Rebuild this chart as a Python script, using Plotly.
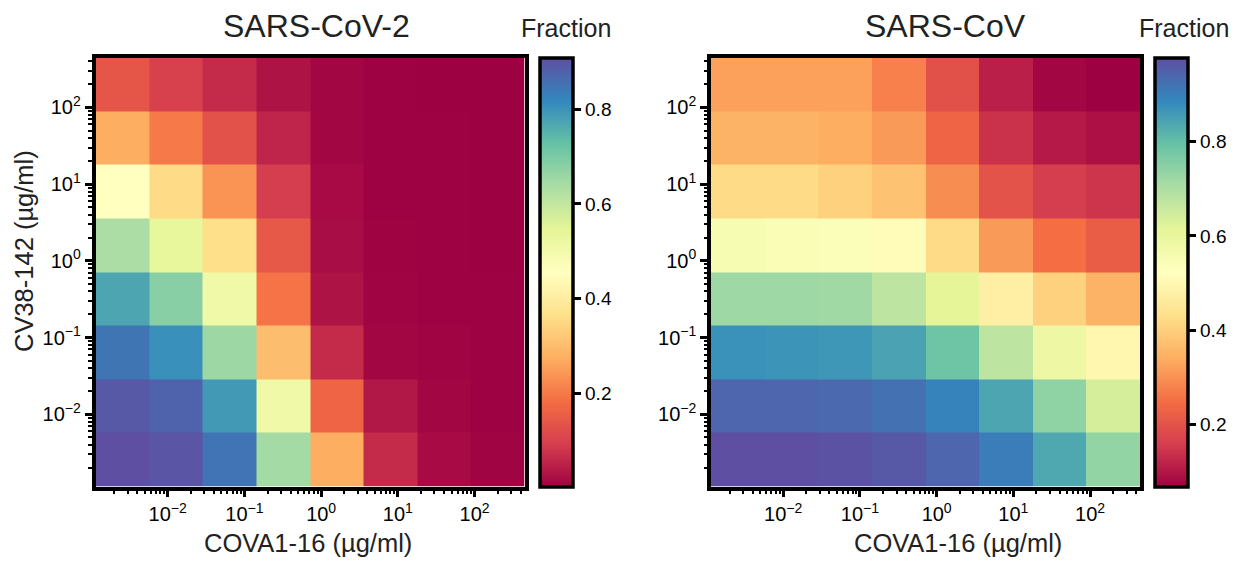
import numpy as np
import plotly.graph_objects as go

# ---- data ----
# concentrations (µg/ml), 5-fold dilution series
cova_conc = [0.00256, 0.0128, 0.064, 0.32, 1.6, 8, 40, 200]          # x (columns, left->right)
cv38_conc = [200, 40, 8, 1.6, 0.32, 0.064, 0.0128, 0.00256]          # y (rows, top->bottom)
dilution = 5

# fraction values, rows follow cv38_conc, columns follow cova_conc
sars2_frac = [
    [0.140, 0.100, 0.067, 0.031, 0.013, 0.005, 0.004, 0.004],
    [0.276, 0.203, 0.131, 0.058, 0.013, 0.006, 0.005, 0.004],
    [0.456, 0.357, 0.239, 0.095, 0.018, 0.006, 0.005, 0.004],
    [0.637, 0.538, 0.366, 0.145, 0.022, 0.007, 0.005, 0.004],
    [0.773, 0.683, 0.511, 0.194, 0.031, 0.009, 0.006, 0.005],
    [0.848, 0.806, 0.656, 0.303, 0.067, 0.013, 0.008, 0.005],
    [0.895, 0.877, 0.792, 0.511, 0.167, 0.036, 0.013, 0.006],
    [0.909, 0.900, 0.850, 0.647, 0.276, 0.067, 0.018, 0.008],
]
sars1_frac = [
    [0.324, 0.324, 0.323, 0.278, 0.196, 0.114, 0.078, 0.069],
    [0.351, 0.350, 0.342, 0.314, 0.233, 0.142, 0.105, 0.092],
    [0.424, 0.423, 0.405, 0.378, 0.296, 0.201, 0.160, 0.146],
    [0.551, 0.546, 0.537, 0.514, 0.424, 0.314, 0.251, 0.219],
    [0.723, 0.723, 0.719, 0.678, 0.614, 0.478, 0.405, 0.351],
    [0.873, 0.869, 0.864, 0.846, 0.787, 0.678, 0.587, 0.496],
    [0.942, 0.942, 0.937, 0.923, 0.896, 0.842, 0.742, 0.642],
    [0.978, 0.978, 0.973, 0.964, 0.942, 0.905, 0.837, 0.737],
]
panel_titles = ["SARS-CoV-2", "SARS-CoV"]
x_label = "COVA1-16 (µg/ml)"
y_label = "CV38-142 (µg/ml)"
cbar_title = "Fraction"
major_tick_vals = [0.01, 0.1, 1, 10, 100]
major_tick_exp = ["−2", "−1", "0", "1", "2"]
cbar_tick_vals = [0.2, 0.4, 0.6, 0.8]

# ---- helpers ----
spectral = ["#9e0142", "#d53e4f", "#f46d43", "#fdae61", "#fee08b", "#ffffbf",
            "#e6f598", "#abdda4", "#66c2a5", "#3288bd", "#5e4fa2"]
colorscale = [[i / 10, c] for i, c in enumerate(spectral)]

def edges(conc):
    c = np.array(sorted(conc), dtype=float)
    s = np.sqrt(dilution)
    return np.concatenate([c / s, [c[-1] * s]])

x_edges = edges(cova_conc)
y_edges = edges(cv38_conc)
rng_x = [np.log10(x_edges[0]), np.log10(x_edges[-1])]
rng_y = [np.log10(y_edges[0]), np.log10(y_edges[-1])]

minor_vals = [k * 10.0 ** n for n in range(-4, 3) for k in range(2, 10)]
major_tick_text = ["10<sup>%s</sup>" % e for e in major_tick_exp]

W, H = 1239, 561
ML, MR, MT, MB = 90, 90, 50, 70
PW, PH = W - ML - MR, H - MT - MB
def px(x): return (x - ML) / PW
def py(y): return 1 - (y - MT) / PH

FONT = "Liberation Sans"

def z_ascending(rows):
    order = np.argsort(cv38_conc)
    return np.array(rows)[order]

fig = go.Figure()

cbar_common = dict(
    thickness=33, thicknessmode="pixels", len=429 / PH, lenmode="fraction",
    y=py(272), yanchor="middle", ypad=0, xpad=0, xanchor="left",
    outlinewidth=3.5, outlinecolor="black",
    ticks="outside", ticklen=7, tickwidth=2.5, tickcolor="black",
    tickmode="array", tickvals=cbar_tick_vals,
    tickfont=dict(family=FONT, size=19, color="black"),
)

fig.add_trace(go.Heatmap(
    x=x_edges, y=y_edges, z=z_ascending(sars2_frac), colorscale=colorscale,
    xaxis="x", yaxis="y", hoverinfo="skip",
    colorbar=dict(x=px(539.5), **cbar_common),
))
fig.add_trace(go.Heatmap(
    x=x_edges, y=y_edges, z=z_ascending(sars1_frac), colorscale=colorscale,
    xaxis="x2", yaxis="y2", hoverinfo="skip",
    colorbar=dict(x=px(1155.2), **cbar_common),
))

axis_common = dict(
    type="log", showgrid=False, zeroline=False, automargin=False,
    showline=True, linewidth=3.5, linecolor="black", mirror=True,
    ticks="outside", ticklen=7, tickwidth=2.5, tickcolor="black",
    tickmode="array", tickvals=major_tick_vals, ticktext=major_tick_text,
    tickfont=dict(family=FONT, size=20, color="black"),
    minor=dict(tickmode="array", tickvals=minor_vals, ticks="outside",
               ticklen=3.5, tickwidth=1.6, tickcolor="black", showgrid=False),
)

fig.update_layout(
    width=W, height=H, margin=dict(l=ML, r=MR, t=MT, b=MB, autoexpand=False),
    paper_bgcolor="white", plot_bgcolor="white", showlegend=False,
    xaxis=dict(domain=[px(95.5), px(524.5)], range=rng_x, anchor="y", **axis_common),
    yaxis=dict(domain=[py(486.5), py(57.5)], range=rng_y, anchor="x", **axis_common),
    xaxis2=dict(domain=[px(711), px(1140)], range=rng_x, anchor="y2", **axis_common),
    yaxis2=dict(domain=[py(486.5), py(57.5)], range=rng_y, anchor="x2", **axis_common),
)

ann = []
def text(x, y, s, size, angle=0):
    ann.append(dict(x=px(x), y=py(y), xref="paper", yref="paper", text=s, showarrow=False,
                    xanchor="center", yanchor="middle", textangle=angle,
                    font=dict(family=FONT, size=size, color="#222222")))

text(316, 26, panel_titles[0], 32)
text(945, 26, panel_titles[1], 32)
text(566, 28, cbar_title, 25)
text(1184, 28, cbar_title, 25)
text(308, 543, x_label, 25.5)
text(958, 543, x_label, 25.5)
text(24, 251, y_label, 25.5, angle=-90)
fig.update_layout(annotations=ann)

fig.write_html("out.html", config={"displayModeBar": False},
               post_script="document.body.style.margin='0';document.body.style.padding='0';")
